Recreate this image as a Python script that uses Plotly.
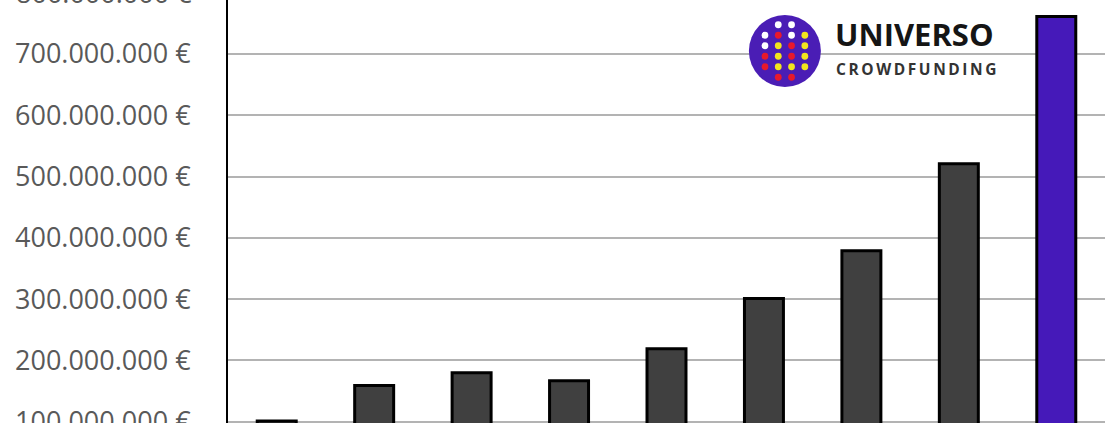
import plotly.graph_objects as go

# funding per year (EUR)
years = ["2011", "2012", "2013", "2014", "2015", "2016", "2017", "2018", "2019"]
amounts = [101e6, 159e6, 180e6, 167e6, 219e6, 301e6, 379e6, 521e6, 761e6]
bar_colors = ["#404040"] * 8 + ["#4519B9"]
y_ticks = [100e6, 200e6, 300e6, 400e6, 500e6, 600e6, 700e6, 800e6]

# logo dot grid (rows top to bottom), w=white r=red y=yellow
logo_rows = ["_ww_", "wrwy", "wyry", "ryry", "ryyy", "_rr_"]

Y_MIN, Y_MAX = 97.9e6, 788.1e6
LABEL_FONT = dict(family="Open Sans", size=27, color="#595959")


def eur(v):
    return f"{v:,.0f}".replace(",", ".") + " €"


fig = go.Figure()
fig.add_trace(go.Bar(
    x=years,
    y=amounts,
    width=0.4,
    marker=dict(color=bar_colors, line=dict(color="black", width=3)),
    hoverinfo="skip",
))

fig.update_layout(
    width=1116,
    height=423,
    margin=dict(l=228, r=11, t=0, b=0),
    plot_bgcolor="white",
    paper_bgcolor="white",
    separators=",.",
    showlegend=False,
    bargap=0.6,
)
fig.update_xaxes(showticklabels=False, showgrid=False, ticks="", showline=False,
                 automargin=False)
fig.update_yaxes(
    range=[Y_MIN, Y_MAX],
    tickvals=y_ticks,
    ticktext=[eur(v) for v in y_ticks],
    tickfont=LABEL_FONT,
    ticklabelstandoff=30,
    ticklabeloverflow="allow",
    automargin=False,
    showgrid=True,
    gridcolor="#b3b3b3",
    gridwidth=1.5,
    showline=True,
    linecolor="black",
    linewidth=2,
    zeroline=False,
)

# top tick label sits above the visible range, only its lower half shows
fig.add_annotation(
    xref="paper", yref="paper",
    x=0, y=(y_ticks[-1] - Y_MIN) / (Y_MAX - Y_MIN),
    xanchor="right", yanchor="middle", xshift=-34,
    text=eur(y_ticks[-1]), showarrow=False, font=LABEL_FONT,
)

# logo: purple disc with coloured dots + wordmark
lx, ly = 0.635, 0.8794
dot_col = {"w": "white", "r": "#E8192C", "y": "#F2E41E"}
fig.add_shape(type="circle", xref="paper", yref="paper",
              xsizemode="pixel", ysizemode="pixel", xanchor=lx, yanchor=ly,
              x0=-36, x1=36, y0=-36, y1=36,
              fillcolor="#4A1DB5", line=dict(width=0), layer="above")
for ri, row in enumerate(logo_rows):
    for ci, c in enumerate(row):
        if c == "_":
            continue
        cx = (ci - 1.5) * 13.3
        cy = (2.5 - ri) * 10.5
        fig.add_shape(type="circle", xref="paper", yref="paper",
                      xsizemode="pixel", ysizemode="pixel", xanchor=lx, yanchor=ly,
                      x0=cx - 3.4, x1=cx + 3.4, y0=cy - 3.4, y1=cy + 3.4,
                      fillcolor=dot_col[c], line=dict(width=0), layer="above")

fig.add_annotation(xref="paper", yref="paper", x=lx, y=ly, xanchor="left", yanchor="bottom",
                   xshift=48, yshift=-6, text="<b>UNIVERSO</b>", showarrow=False,
                   font=dict(family="Open Sans", size=31, color="#151515"))
fig.add_annotation(xref="paper", yref="paper", x=lx, y=ly, xanchor="left", yanchor="top",
                   xshift=49, yshift=-5, text="<b>" + "\u2009".join("CROWDFUNDING") + "</b>",
                   showarrow=False, font=dict(family="Open Sans", size=15.5, color="#333333"))

# drop the default 8px body margin so the figure sits flush in the window
fig.write_html("out.html", config={"displayModeBar": False},
               post_script="document.body.style.margin='0';")
